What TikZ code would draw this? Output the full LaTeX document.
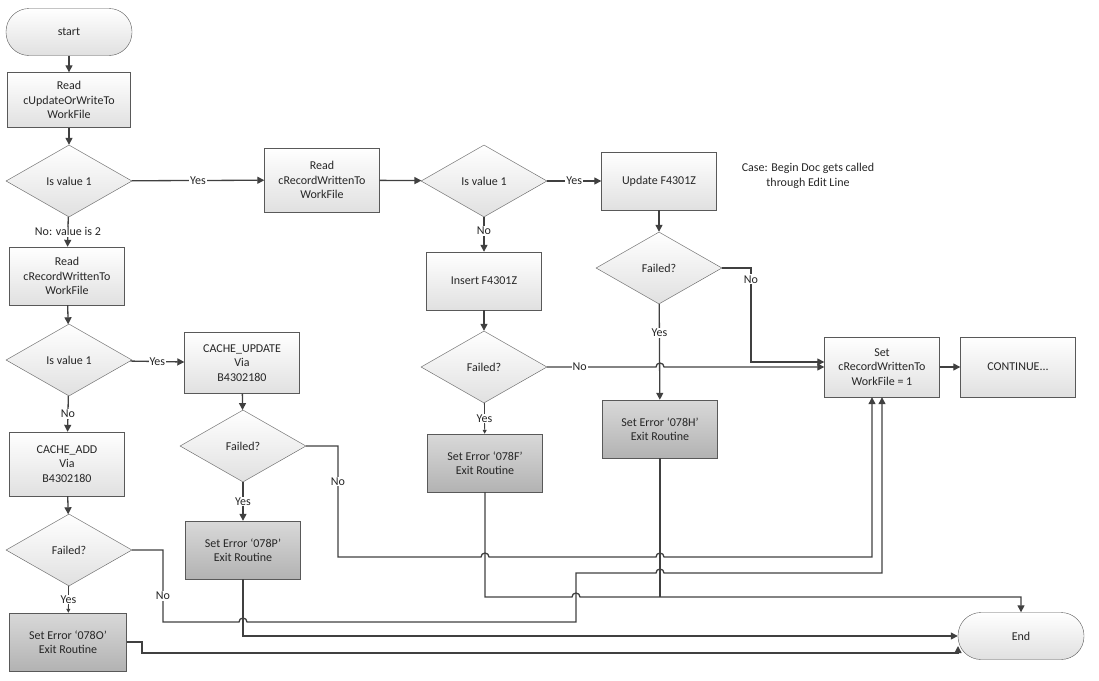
\documentclass[tikz,border=0pt]{standalone}
\usepackage{fontspec}
\setmainfont{Carlito}
\usepackage{tikz}
\usetikzlibrary{shapes.geometric}
\usetikzlibrary{arrows.meta}
\usetikzlibrary{calc}
\newcommand{\hop}[2]{-- (#1-4,#2) arc[start angle=180, end angle=0, radius=4]}
\begin{document}
\begin{tikzpicture}[x=1pt, y=1pt,
    every node/.style={font=\fontsize{12}{14.5}\selectfont, text=black!85},
    box/.style={draw=black!65, top color=white, bottom color=black!12,
        align=center, minimum width=115pt, minimum height=58pt, inner sep=2pt},
    errbox/.style={box, top color=black!15, bottom color=black!30},
    term/.style={box, rounded corners=23pt, minimum width=126pt, minimum height=47pt},
    test/.style={diamond, draw=black!65, top color=white, bottom color=black!12,
        aspect=1.75, minimum width=126pt, minimum height=72pt, inner sep=0pt},
    flow/.style={draw=black!75, line width=1.3pt, -{Triangle[length=7pt, width=7pt]}},
    link/.style={draw=black!75, line width=1.3pt},
    lbl/.style={fill=white, inner sep=1pt}]

    \useasboundingbox (0,0) rectangle (1099,-680);

    % left column
    \node[term] (start) at (69,-32) {start};
    \node[box, minimum width=123pt, minimum height=55pt] (rdUpd) at (69,-100)
        {Read\\cUpdateOrWriteTo\\WorkFile};
    \node[test] (isOne) at (69,-181) {Is value 1};
    \node[box] (rdRec) at (67,-276) {Read\\cRecordWrittenTo\\WorkFile};
    \node[test] (isOneB) at (69,-360) {Is value 1};
    \node[box, minimum height=64pt] (cacheAdd) at (67,-464) {CACHE\_ADD\\Via\\B4302180};
    \node[test] (failAdd) at (69,-550) {Failed?};
    \node[errbox, minimum width=117pt] (err78O) at (68,-642) {Set Error `078O'\\Exit Routine};

    % second column
    \node[box, minimum height=61pt] (cacheUpd) at (242,-363) {CACHE\_UPDATE\\Via\\B4302180};
    \node[test] (failCache) at (243,-446) {Failed?};
    \node[errbox] (err78P) at (243,-550) {Set Error `078P'\\Exit Routine};

    % upper row
    \node[box, minimum height=64pt] (rdRecB) at (322,-180) {Read\\cRecordWrittenTo\\WorkFile};
    \node[test] (isOneC) at (484,-181) {Is value 1};
    \node[box] (updF) at (659,-181) {Update F4301Z};
    \node[align=center] (note) at (808,-176) {Case: Begin Doc gets called\\through Edit Line};
    \node[test] (failUpd) at (659,-268) {Failed?};
    \node[errbox] (err78H) at (660,-429) {Set Error `078H'\\Exit Routine};
    \node[box] (insF) at (484,-281) {Insert F4301Z};
    \node[test] (failIns) at (484,-367) {Failed?};
    \node[errbox] (err78F) at (485,-463) {Set Error `078F'\\Exit Routine};

    \node[box, minimum height=60pt] (setRec) at (882,-367) {Set\\cRecordWrittenTo\\WorkFile = 1};
    \node[box, minimum height=60pt] (cont) at (1018,-367) {CONTINUE...};
    \node[term] (stop) at (1021,-636) {End};
    \coordinate (stopIn) at (958,-646);

    % main flow
    \draw[flow] (start) -- (rdUpd);
    \draw[flow] (rdUpd) -- (isOne);
    \draw[flow] (isOne) -- node[lbl]{No: value is 2} (rdRec);
    \draw[flow] (rdRec) -- (isOneB);
    \draw[flow] (isOneB) -- node[lbl]{No} (cacheAdd);
    \draw[flow] (cacheAdd) -- (failAdd);
    \draw[flow, -{Triangle[length=4pt, width=4pt]}, line width=0.8pt] (failAdd) -- node[lbl]{Yes} (err78O);
    \draw[flow] (isOneB) -- node[lbl]{Yes} (cacheUpd);
    \draw[flow] (cacheUpd) -- (failCache);
    \draw[flow] (failCache) -- node[lbl]{Yes} (err78P);
    \draw[flow] (isOne) -- node[lbl]{Yes} (rdRecB);
    \draw[flow] (rdRecB) -- (isOneC);
    \draw[flow] (isOneC) -- node[lbl]{Yes} (updF);
    \draw[flow] (updF) -- (failUpd);
    \draw[flow] (failUpd) -- node[lbl, pos=0.3]{Yes} (err78H);
    \draw[flow] (isOneC) -- node[lbl, pos=0.4]{No} (insF);
    \draw[flow] (insF) -- (failIns);
    \draw[flow, -{Triangle[length=4pt, width=4pt]}, line width=0.8pt] (failIns) -- node[lbl]{Yes} (err78F);
    \draw[flow] (setRec) -- (cont);

    % back to set
    \draw[flow] (failIns.east) -- node[lbl]{No} (612,-367) \hop{660}{-367} -- (setRec.west);
    \draw[flow] (failUpd.east) -- (751,-268) -- node[lbl, pos=0.12]{No} (751,-362)
        -- ([yshift=5pt]setRec.west);
    \draw[flow] (failCache.east) -- (338,-446) -- node[lbl, pos=0.32]{No} (338,-557)
        \hop{485}{-557} \hop{660}{-557} -- (872,-557) -- ([xshift=-10pt]setRec.south);
    \draw[flow] (failAdd.east) -- (163,-550) -- node[lbl, pos=0.64]{No} (163,-622)
        \hop{243}{-622} -- (576,-622) -- (576,-573) \hop{660}{-573} -- (882,-573) -- (setRec.south);

    % exits
    \draw[flow] (err78F.south) -- (485,-597) \hop{576}{-597} -- (1021,-597) -- (stop.north);
    \draw[link] (err78H.south) -- (660,-597);
    \draw[flow] (err78P.south) -- (243,-636) -- (stop.west);
    \draw[flow] (err78O.east) -- (142,-642) -- (142,-653) -- (958,-653) -- (stopIn);

\end{tikzpicture}
\end{document}
